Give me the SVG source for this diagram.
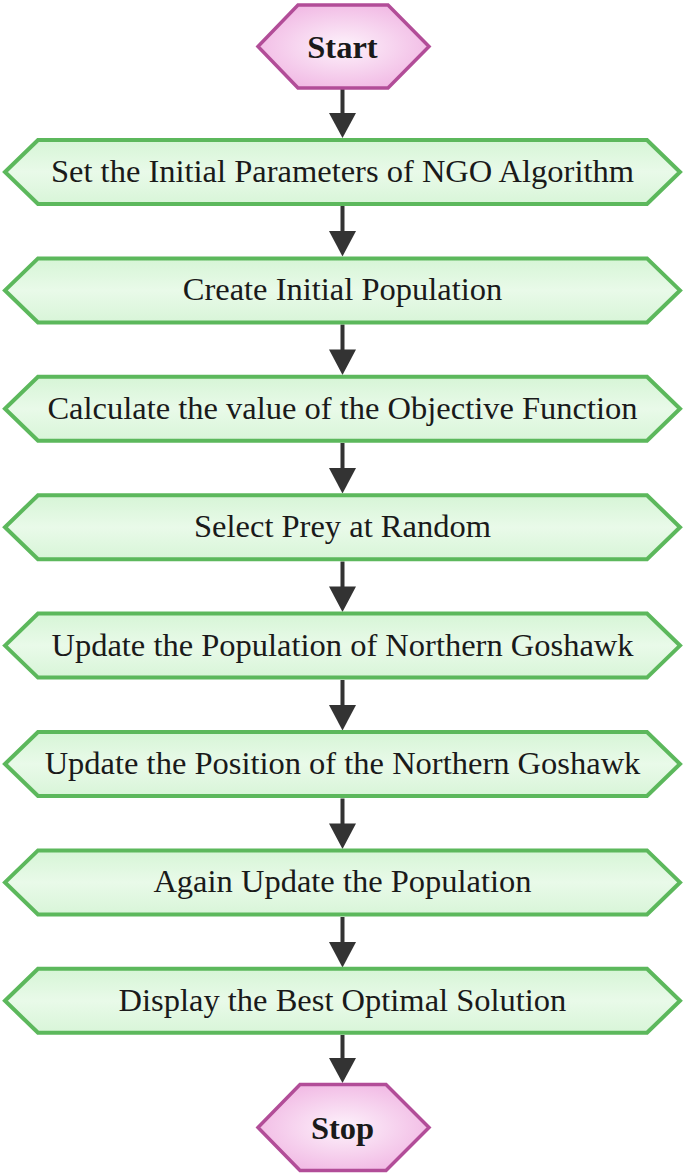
<svg xmlns="http://www.w3.org/2000/svg" width="685" height="1175" viewBox="0 0 685 1175">
<defs>
<radialGradient id="pink" cx="50%" cy="50%" r="60%">
<stop offset="0" stop-color="#fdf2fb"/>
<stop offset="1" stop-color="#f0b4e2"/>
</radialGradient>
<linearGradient id="green" x1="0" y1="0" x2="0" y2="1">
<stop offset="0" stop-color="#d6f5d6"/>
<stop offset="0.5" stop-color="#e9fae9"/>
<stop offset="1" stop-color="#d8f5d8"/>
</linearGradient>
</defs>
<style>
.term{fill:url(#pink);stroke:#b24d98;stroke-width:3.5;stroke-linejoin:miter}
.proc{fill:url(#green);stroke:#5cb85c;stroke-width:4;stroke-linejoin:miter}
.t{font-family:"Liberation Serif","Times New Roman",serif;font-size:32.5px;fill:#1a1a1a;text-anchor:middle}
.b{font-weight:bold}
.line{stroke:#333;stroke-width:4;fill:none}
.head{fill:#333}
</style>
<g id="connectors">
<line class="line" x1="342.5" y1="89" x2="342.5" y2="114"/><polygon class="head" points="329,113 356,113 342.5,138"/>
<line class="line" x1="342.5" y1="206" x2="342.5" y2="232"/><polygon class="head" points="329,231 356,231 342.5,256.5"/>
<line class="line" x1="342.5" y1="324.5" x2="342.5" y2="350"/><polygon class="head" points="329,349.5 356,349.5 342.5,375"/>
<line class="line" x1="342.5" y1="443" x2="342.5" y2="469"/><polygon class="head" points="329,468 356,468 342.5,493.5"/>
<line class="line" x1="342.5" y1="561.5" x2="342.5" y2="587"/><polygon class="head" points="329,586.5 356,586.5 342.5,612"/>
<line class="line" x1="342.5" y1="680" x2="342.5" y2="706"/><polygon class="head" points="329,705 356,705 342.5,730.5"/>
<line class="line" x1="342.5" y1="798.5" x2="342.5" y2="824"/><polygon class="head" points="329,823.5 356,823.5 342.5,849"/>
<line class="line" x1="342.5" y1="917" x2="342.5" y2="943"/><polygon class="head" points="329,942 356,942 342.5,967.5"/>
<line class="line" x1="342.5" y1="1035" x2="342.5" y2="1059"/><polygon class="head" points="329,1058 356,1058 342.5,1083"/>
</g>
<g id="start">
<polygon class="term" points="258,46.5 298,5 388,5 429,46.5 388,88 298,88"/>
<text class="t b" x="342.5" y="57.5">Start</text>
</g>
<g id="n1">
<polygon class="proc" points="5,172 38,140 647,140 680,172 647,204 38,204"/>
<text class="t" x="342.5" y="182">Set the Initial Parameters of NGO Algorithm</text>
</g>
<g id="n2">
<polygon class="proc" points="5,290.4 38,258.4 647,258.4 680,290.4 647,322.4 38,322.4"/>
<text class="t" x="342.5" y="300.4">Create Initial Population</text>
</g>
<g id="n3">
<polygon class="proc" points="5,408.8 38,376.8 647,376.8 680,408.8 647,440.8 38,440.8"/>
<text class="t" x="342.5" y="418.8">Calculate the value of the Objective Function</text>
</g>
<g id="n4">
<polygon class="proc" points="5,527.2 38,495.2 647,495.2 680,527.2 647,559.2 38,559.2"/>
<text class="t" x="342.5" y="537.2">Select Prey at Random</text>
</g>
<g id="n5">
<polygon class="proc" points="5,645.6 38,613.6 647,613.6 680,645.6 647,677.6 38,677.6"/>
<text class="t" x="342.5" y="655.6">Update the Population of Northern Goshawk</text>
</g>
<g id="n6">
<polygon class="proc" points="5,764 38,732 647,732 680,764 647,796 38,796"/>
<text class="t" x="342.5" y="774">Update the Position of the Northern Goshawk</text>
</g>
<g id="n7">
<polygon class="proc" points="5,882.4 38,850.4 647,850.4 680,882.4 647,914.4 38,914.4"/>
<text class="t" x="342.5" y="892.4">Again Update the Population</text>
</g>
<g id="n8">
<polygon class="proc" points="5,1000.8 38,968.8 647,968.8 680,1000.8 647,1032.8 38,1032.8"/>
<text class="t" x="342.5" y="1010.8">Display the Best Optimal Solution</text>
</g>
<g id="stop">
<polygon class="term" points="258,1127.5 300,1084.5 386,1084.5 429,1127.5 386,1170.5 300,1170.5"/>
<text class="t b" x="342.5" y="1138.5">Stop</text>
</g>
</svg>
